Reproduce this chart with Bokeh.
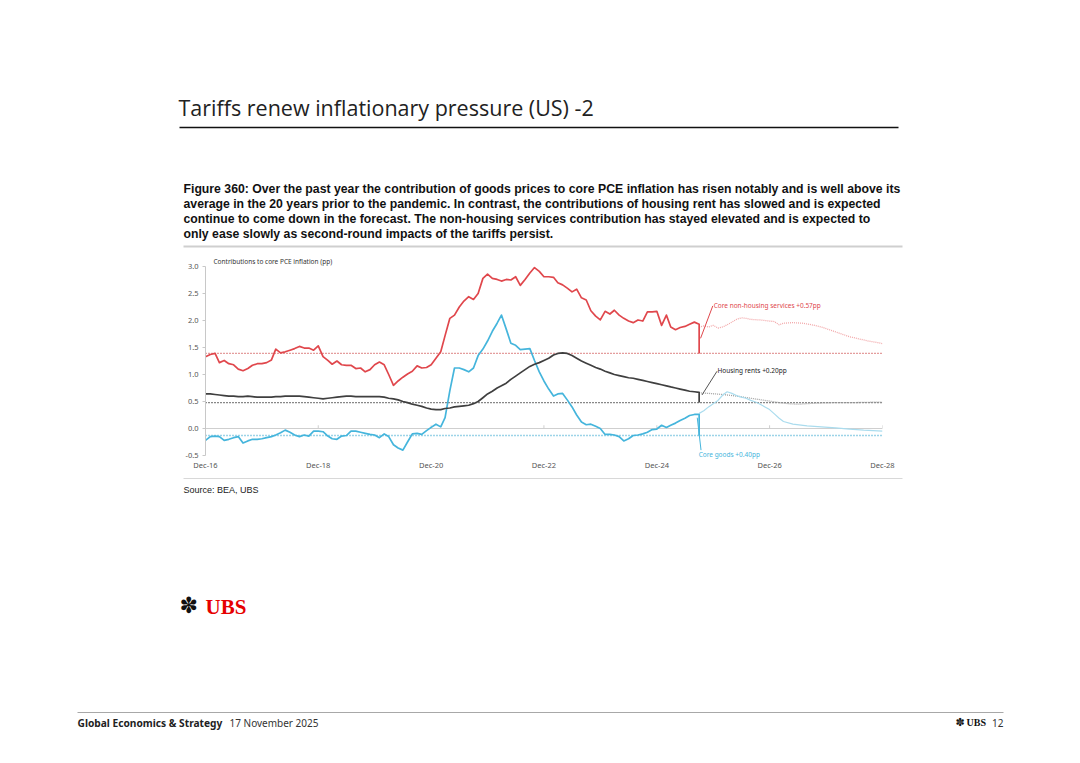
import pandas as pd
from bokeh.plotting import figure
from bokeh.layouts import column
from bokeh.models import (Label, FixedTicker, DatetimeTickFormatter,
                          NumeralTickFormatter, Range1d)
from bokeh.embed import file_html
from bokeh.resources import INLINE

# ---------------- data ----------------
first_month = "2016-12-01"
last_actual_month = "2025-09-01"

core_services = [1.33,1.37,1.39,1.22,1.26,1.20,1.18,1.10,1.07,1.11,
                 1.17,1.20,1.20,1.22,1.27,1.47,1.40,1.42,1.45,1.48,
                 1.52,1.49,1.49,1.45,1.53,1.33,1.26,1.19,1.25,1.18,
                 1.17,1.17,1.11,1.12,1.05,1.09,1.18,1.23,1.18,1.00,
                 0.80,0.88,0.95,1.01,1.06,1.16,1.12,1.13,1.18,1.30,
                 1.42,1.72,2.04,2.10,2.25,2.36,2.44,2.39,2.50,2.78,
                 2.86,2.78,2.76,2.73,2.76,2.75,2.81,2.65,2.76,2.88,
                 2.98,2.91,2.81,2.81,2.80,2.70,2.66,2.60,2.53,2.58,
                 2.42,2.38,2.18,2.08,2.01,2.17,2.12,2.19,2.10,2.04,
                 1.99,1.96,2.01,1.99,2.16,2.16,2.17,1.91,2.10,1.88,
                 1.83,1.87,1.89,1.93,1.97,1.93]
housing_rents = [0.64,0.64,0.63,0.62,0.61,0.60,0.60,0.59,0.59,0.60,
                 0.59,0.58,0.58,0.58,0.58,0.59,0.59,0.60,0.60,0.60,
                 0.60,0.59,0.58,0.57,0.56,0.55,0.56,0.57,0.58,0.59,
                 0.60,0.60,0.59,0.59,0.59,0.59,0.59,0.59,0.58,0.56,
                 0.55,0.53,0.50,0.48,0.45,0.43,0.41,0.38,0.36,0.35,
                 0.35,0.37,0.38,0.40,0.41,0.42,0.43,0.46,0.50,0.57,
                 0.64,0.69,0.75,0.79,0.84,0.91,0.97,1.03,1.09,1.15,
                 1.19,1.22,1.26,1.30,1.36,1.39,1.40,1.39,1.35,1.30,
                 1.25,1.21,1.17,1.13,1.10,1.06,1.03,1.00,0.98,0.96,
                 0.94,0.93,0.91,0.89,0.87,0.85,0.83,0.81,0.79,0.77,
                 0.75,0.73,0.71,0.69,0.68,0.67]
core_goods = [-0.22,-0.15,-0.14,-0.15,-0.22,-0.20,-0.17,-0.15,-0.27,-0.23,
              -0.20,-0.20,-0.19,-0.17,-0.15,-0.12,-0.08,-0.03,-0.07,-0.12,
              -0.15,-0.12,-0.14,-0.05,-0.05,-0.06,-0.14,-0.19,-0.20,-0.14,
              -0.13,-0.05,-0.05,-0.07,-0.09,-0.11,-0.12,-0.17,-0.10,-0.15,
              -0.30,-0.36,-0.40,-0.25,-0.10,-0.09,-0.11,-0.04,0.02,0.08,
              0.03,0.20,0.70,1.12,1.12,1.09,1.05,1.12,1.35,1.47,
              1.62,1.80,1.95,2.10,1.84,1.58,1.54,1.46,1.47,1.48,
              1.26,1.05,0.88,0.73,0.60,0.64,0.65,0.53,0.40,0.25,
              0.12,0.07,0.08,0.04,0.00,-0.11,-0.11,-0.12,-0.15,-0.23,
              -0.19,-0.13,-0.12,-0.10,-0.07,-0.02,-0.01,0.06,0.02,0.06,
              0.10,0.15,0.19,0.24,0.26,0.26]

# forecasts: month offsets from Dec-16
services_fc_month = [105,106,107,108,109,110,111,112,113,114,115,116,118,120,121,122,123,125,127,129,131,133,135,137,139,141,143,144]
services_fc = [1.88,1.90,1.88,1.91,1.86,1.88,1.92,1.97,2.02,2.05,2.04,2.02,2.01,1.99,1.98,1.92,1.95,1.96,1.95,1.92,1.88,1.82,1.76,1.70,1.66,1.62,1.59,1.57]
rents_fc_month = [105,107,110,113,116,119,122,124,126,128,130,134,138,144]
rents_fc = [0.66,0.65,0.63,0.60,0.56,0.52,0.48,0.46,0.45,0.46,0.47,0.48,0.48,0.49]
goods_fc_month = [105,106,107,108,109,110,111,112,113,114,115,116,117,118,119,120,121,122,123,125,128,131,134,137,140,144]
goods_fc = [0.28,0.33,0.40,0.46,0.52,0.62,0.68,0.65,0.61,0.58,0.56,0.52,0.49,0.45,0.40,0.35,0.27,0.19,0.13,0.08,0.05,0.03,0.01,-0.01,-0.03,-0.05]

# pre-pandemic 20-year averages
services_avg = 1.39
rents_avg = 0.48
goods_avg = -0.13

x_tick_labels = ["Dec-16", "Dec-18", "Dec-20", "Dec-22", "Dec-24", "Dec-26", "Dec-28"]
y_ticks = [-0.5, 0.0, 0.5, 1.0, 1.5, 2.0, 2.5, 3.0]

label_services = "Core non-housing services  +0.57pp"
label_rents = "Housing rents +0.20pp"
label_goods = "Core goods +0.40pp"
chart_title = "Contributions to core PCE inflation (pp)"

page_title = "Tariffs renew inflationary pressure (US) -2"
caption = ["Figure 360: Over the past year the contribution of goods prices to core PCE inflation has risen notably and is well above its",
           "average in the 20 years prior to the pandemic. In contrast, the contributions of housing rent has slowed and is expected",
           "continue to come down in the forecast. The non-housing services contribution has stayed elevated and is expected to",
           "only ease slowly as second-round impacts of the tariffs persist."]
source = "Source: BEA, UBS"

# ---------------- helpers ----------------
start = pd.Timestamp(first_month)
dates = pd.date_range(first_month, last_actual_month, freq="MS")
tick_dates = pd.to_datetime(x_tick_labels, format="%b-%y")

def month_dates(offsets):
    return [start + pd.DateOffset(months=int(m)) for m in offsets]

def mpos(m):
    return (start + pd.Timedelta(days=30.4375 * m)).value / 1e6

def no_align(f):
    try:
        f.frame_align = False
    except Exception:
        pass

RED = "#e0474c"
RED_FC = "#f2a7a9"
BLK = "#3f3f3f"
BLK_FC = "#a0a0a0"
BLU = "#45b5dc"
BLU_FC = "#aadcee"
FONT = "Noto Sans"

W = 1064
TOP_H = 256          # page y 0..256
CH_TOP, CH_BOT = 256, 472
FL, FR = 205, 882
FRAME_BOT = 459

# ---------------- chart ----------------
p = figure(width=W, height=CH_BOT - CH_TOP, output_backend="svg", toolbar_location=None,
           x_axis_type="datetime",
           x_range=Range1d(tick_dates[0], tick_dates[-1]),
           y_range=Range1d(-0.574, 3.185),
           min_border_left=FL, min_border_right=W - FR,
           min_border_top=0, min_border_bottom=CH_BOT - FRAME_BOT)
no_align(p)
p.outline_line_color = None
p.grid.grid_line_color = None

p.yaxis.ticker = FixedTicker(ticks=y_ticks)
p.yaxis.bounds = (y_ticks[0], y_ticks[-1])
p.yaxis.formatter = NumeralTickFormatter(format="0.0")
p.yaxis.axis_line_color = "#c8c8c8"
p.yaxis.major_tick_line_color = "#c8c8c8"
p.yaxis.major_tick_out = 3
p.yaxis.major_tick_in = 0
p.yaxis.minor_tick_line_color = None
p.yaxis.major_label_text_font = FONT
p.yaxis.major_label_text_font_size = "7.5px"
p.yaxis.major_label_text_color = "#555555"
p.yaxis.major_label_standoff = 4

p.xaxis.ticker = FixedTicker(ticks=[d.value / 1e6 for d in tick_dates])
fmt = "%b-%y"
p.xaxis.formatter = DatetimeTickFormatter(years=fmt, months=fmt, days=fmt, hours=fmt,
                                          minutes=fmt, seconds=fmt, milliseconds=fmt,
                                          microseconds=fmt, hourmin=fmt, minsec=fmt)
p.xaxis.axis_line_color = None
p.xaxis.major_tick_line_color = None
p.xaxis.major_tick_out = 0
p.xaxis.major_tick_in = 0
p.xaxis.minor_tick_line_color = None
p.xaxis.major_label_text_font = FONT
p.xaxis.major_label_text_font_size = "7.5px"
p.xaxis.major_label_text_color = "#555555"
p.xaxis.major_label_standoff = 0

# zero line with small ticks
p.line([tick_dates[0], tick_dates[-1]], [0, 0], line_color="#cfcfcf", line_width=1)
p.segment(x0=tick_dates, y0=[0] * len(tick_dates), x1=tick_dates, y1=[0.06] * len(tick_dates),
          line_color="#cfcfcf", line_width=1)

# averages (dotted)
p.line([tick_dates[0], tick_dates[-1]], [services_avg] * 2, line_color="#c83a3a", line_width=1.3, line_dash="1 2")
p.line([tick_dates[0], tick_dates[-1]], [rents_avg] * 2, line_color="#111111", line_width=1.3, line_dash="1 2")
p.line([tick_dates[0], tick_dates[-1]], [goods_avg] * 2, line_color="#3aa9d0", line_width=1.3, line_dash="1 2")

# forecasts
p.line(month_dates(services_fc_month), services_fc, line_color=RED_FC, line_width=1.3, line_dash="1 1")
p.line(month_dates(rents_fc_month), rents_fc, line_color=BLK_FC, line_width=1.3, line_dash="1 1")
p.line(month_dates(goods_fc_month), goods_fc, line_color=BLU_FC, line_width=1.2)

# actuals (each ends with a drop to its average line)
xa = list(dates) + [dates[-1]]
p.line(xa, core_goods + [goods_avg], line_color=BLU, line_width=1.7, line_join="round")
p.line(xa, housing_rents + [rents_avg], line_color=BLK, line_width=1.7, line_join="round")
p.line(xa, core_services + [services_avg], line_color=RED, line_width=1.7, line_join="round")

# leaders + labels
p.segment(x0=[mpos(105.3)], y0=[1.67], x1=[mpos(107.9)], y1=[2.27], line_color=RED, line_width=1)
p.segment(x0=[mpos(105.6)], y0=[0.62], x1=[mpos(108.8)], y1=[1.06], line_color="#555555", line_width=1)
p.segment(x0=[mpos(104.6)], y0=[0.20], x1=[mpos(105.4)], y1=[-0.40], line_color=BLU, line_width=1)

p.add_layout(Label(x=mpos(108.1), y=2.28, text=label_services, text_font=FONT,
                   text_font_size="6.5px", text_color=RED, text_baseline="middle"))
p.add_layout(Label(x=mpos(108.9), y=1.08, text=label_rents, text_font=FONT,
                   text_font_size="6.5px", text_color="#222222", text_baseline="middle"))
p.add_layout(Label(x=mpos(104.9), y=-0.49, text=label_goods, text_font=FONT,
                   text_font_size="6.5px", text_color=BLU, text_baseline="middle"))
p.add_layout(Label(x=mpos(1.7), y=3.093, text=chart_title, text_font=FONT,
                   text_font_size="6.5px", text_color="#333333", text_baseline="middle"))

# ---------------- page parts (pixel coordinate canvases) ----------------
def page_canvas(y0, y1):
    f = figure(width=W, height=y1 - y0, output_backend="svg", toolbar_location=None,
               x_range=Range1d(0, W), y_range=Range1d(y1, y0),
               x_axis_location=None, y_axis_location=None,
               min_border_left=0, min_border_right=0, min_border_top=0, min_border_bottom=0)
    no_align(f)
    f.outline_line_color = None
    f.grid.grid_line_color = None
    return f

def txt(f, text, X, Y, size, color="#222222", font=FONT, style="normal", align="left"):
    f.add_layout(Label(x=X, y=Y, text=text, text_font=font, text_font_size=f"{size}px",
                       text_color=color, text_font_style=style, text_align=align,
                       text_baseline="middle"))

def rule(f, X0, X1, Y, thick, color):
    f.line([X0, X1], [Y, Y], line_color=color, line_width=thick)

top = page_canvas(0, TOP_H)
txt(top, page_title, 178, 107, 21.5, "#222222", "Open Sans")
rule(top, 179, 898, 127, 1.3, "#111111")
for k, line in enumerate(caption):
    txt(top, line, 183, 188 + 15.3 * k, 12.25, "#111111", "Liberation Sans", "bold")
rule(top, 183, 902, 246, 2, "#cfcfcf")

bot = page_canvas(CH_BOT, 755)
rule(bot, 183, 902, 478, 1, "#d8d8d8")
txt(bot, source, 183, 489, 9, "#222222", "Liberation Sans")
txt(bot, "\u273D", 179, 605, 22, "#111111", "DejaVu Sans")
txt(bot, "UBS", 205, 606, 21, "#e60000", "Liberation Serif", "bold")
rule(bot, 77, 1003, 712, 1, "#a8a8a8")
txt(bot, "Global Economics & Strategy", 77, 722, 10.2, "#222222", FONT, "bold")
txt(bot, "17 November 2025", 229, 722, 10, "#333333", FONT)
txt(bot, "\u273D", 955, 722, 11, "#111111", "DejaVu Sans")
txt(bot, "UBS", 966, 722, 10, "#111111", "Liberation Serif", "bold")
txt(bot, "12", 1003, 722, 10, "#333333", FONT, align="right")

layout = column(top, p, bot, spacing=0)
open("out.html", "w").write(file_html(layout, INLINE))
